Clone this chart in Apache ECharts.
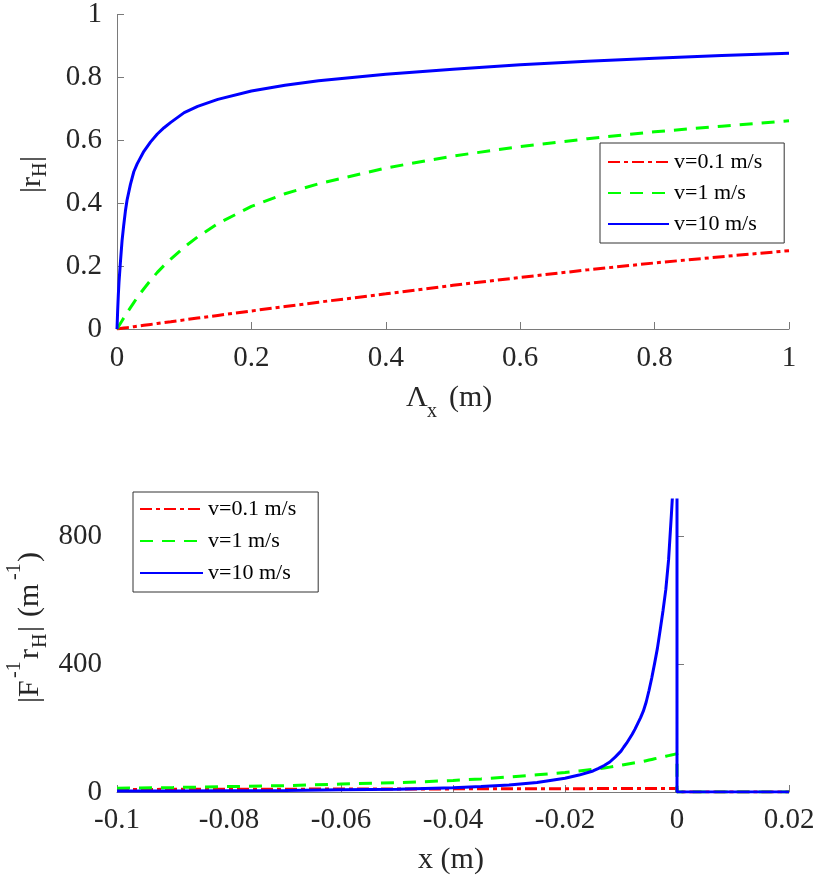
<!DOCTYPE html>
<html>
<head>
<meta charset="utf-8">
<title>r_H</title>
<script src="https://cdn.jsdelivr.net/npm/echarts@6/dist/echarts.min.js"></script>
<style>
  html, body { margin: 0; padding: 0; background: #fff; }
  #chart { width: 828px; height: 875px; }
</style>
</head>
<body>
<div id="chart"></div>
<script>
// top panel: |r_H| vs Lambda_x
const lamX  = [0, 0.001, 0.002, 0.003, 0.005, 0.0075, 0.01, 0.0125, 0.015, 0.02, 0.025, 0.03, 0.04, 0.05, 0.06, 0.07, 0.08, 0.1, 0.12, 0.15, 0.2, 0.25, 0.3, 0.4, 0.5, 0.6, 0.7, 0.8, 0.9, 1.0];
const rSlow = [0, 0.0003, 0.0006, 0.0009, 0.0015, 0.0022, 0.003, 0.0037, 0.0044, 0.0058, 0.0073, 0.0088, 0.0117, 0.0146, 0.0175, 0.0204, 0.0232, 0.029, 0.0347, 0.0432, 0.0574, 0.0714, 0.0852, 0.112, 0.139, 0.164, 0.188, 0.21, 0.23, 0.249];
const rMid  = [0, 0.0035, 0.007, 0.0105, 0.0175, 0.026, 0.035, 0.043, 0.052, 0.068, 0.084, 0.1, 0.128, 0.155, 0.18, 0.202, 0.222, 0.26, 0.293, 0.335, 0.39, 0.43, 0.462, 0.512, 0.55, 0.58, 0.605, 0.627, 0.645, 0.662];
const rFast = [0, 0.06, 0.11, 0.15, 0.21, 0.28, 0.33, 0.375, 0.41, 0.46, 0.5, 0.525, 0.565, 0.595, 0.62, 0.64, 0.657, 0.688, 0.708, 0.73, 0.757, 0.775, 0.789, 0.81, 0.826, 0.84, 0.851, 0.861, 0.87, 0.877];

// bottom panel: |F^-1 r_H| vs x
const xPos  = [-0.1, -0.09, -0.08, -0.07, -0.06, -0.05, -0.04, -0.035, -0.03, -0.025,
               -0.02, -0.0175, -0.015, -0.014, -0.013, -0.012, -0.011, -0.01, -0.0095, -0.009,
               -0.0085, -0.008, -0.0075, -0.007, -0.0065, -0.006, -0.0055, -0.005, -0.0045, -0.004,
               -0.0035, -0.003, -0.0025, -0.002, -0.0015, -0.001, -0.0005, 0, 0, 0.02];
const fSlow = [8, 8.3, 8.6, 8.9, 9.2, 9.5, 9.8, 10, 10.1, 10.3,
               10.4, 10.5, 10.6, 10.6, 10.6, 10.6, 10.7, 10.7, 10.7, 10.7,
               10.8, 10.8, 10.8, 10.8, 10.8, 10.8, 10.9, 10.9, 10.9, 10.9,
               10.9, 10.9, 11, 11, 11, 11, 11, 11, 0, 0];
const fMid  = [12, 14, 17, 20, 25, 29, 36, 41, 47, 54,
               61, 66, 71, 73, 75, 78, 81, 84, 85.5, 87,
               88.5, 90, 91.5, 93, 94.5, 96, 98, 100, 102, 104,
               106, 108, 110, 112, 114, 116, 118, 120, 0, 0];
const fFast = [3, 3, 4, 5, 7, 9, 13, 17, 22, 30,
               43, 53, 66, 74, 83, 94, 110, 128, 141, 153,
               167, 181, 197, 215, 233, 254, 282, 318, 358, 403,
               450, 508, 568, 634, 728, 870, 1020, 1200, 0, 0];

const names  = ['v=0.1 m/s', 'v=1 m/s', 'v=10 m/s'];
const colors = ['#ff0000', '#00ff00', '#0000ff'];
const dashes = [[12, 4, 4, 4], [13, 9], 'solid'];

const FONT = '"Liberation Serif", "Times New Roman", serif';
const TXT = '#262626';

function zip(xs, ys) {
    return xs.map((x, i) => [x, ys[i]]);
}

function mkSeries(idx, xs, ys, k) {
    return {
        name: names[k],
        type: 'line',
        xAxisIndex: idx,
        yAxisIndex: idx,
        data: zip(xs, ys),
        symbol: 'none',
        smooth: false,
        lineStyle: { color: colors[k], width: 3, type: dashes[k] },
        itemStyle: { color: colors[k] },
        z: 2 + k
    };
}

function axisBase() {
    return {
        type: 'value',
        axisLine: { show: true, lineStyle: { color: '#7a7a7a', width: 1 } },
        axisTick: { show: true, inside: true, length: 7, lineStyle: { color: '#7a7a7a' } },
        splitLine: { show: false },
        axisLabel: { fontFamily: FONT, fontSize: 29, color: TXT, margin: 15 }
    };
}

function txt(x, y, s, size, align) {
    return {
        type: 'text', x: x, y: y,
        style: {
            text: s, font: size + 'px ' + FONT, fill: TXT,
            align: align || 'left', verticalAlign: 'middle',
            textAlign: align || 'left', textVerticalAlign: 'middle'
        }
    };
}

function mkLegend(left, top, w, gap, pad) {
    return {
        left: left, top: top, orient: 'vertical', data: names, selectedMode: false,
        itemWidth: w, itemHeight: 14, itemGap: gap,
        padding: pad,
        borderColor: '#333', borderWidth: 1, backgroundColor: '#fff',
        itemStyle: { opacity: 0, borderWidth: 0 },
        textStyle: { fontFamily: FONT, fontSize: 22, color: '#000' }
    };
}

const chart = echarts.init(document.getElementById('chart'));

const option = {
    animation: false,
    backgroundColor: '#fff',
    grid: [
        { left: 117, top: 12, width: 672, height: 317 },
        { left: 117, top: 500, width: 672, height: 292 }
    ],
    xAxis: [
        Object.assign(axisBase(), {
            gridIndex: 0, min: 0, max: 1, interval: 0.2,
            axisLabel: Object.assign(axisBase().axisLabel, { formatter: v => String(+v.toFixed(1)) })
        }),
        Object.assign(axisBase(), {
            gridIndex: 1, min: -0.1, max: 0.02, interval: 0.02,
            axisLabel: Object.assign(axisBase().axisLabel, { margin: 14, formatter: v => String(+v.toFixed(2)) })
        })
    ],
    yAxis: [
        Object.assign(axisBase(), {
            gridIndex: 0, min: 0, max: 1, interval: 0.2,
            axisLabel: Object.assign(axisBase().axisLabel, { formatter: v => String(+v.toFixed(1)) })
        }),
        Object.assign(axisBase(), {
            gridIndex: 1, min: 0, max: 915, interval: 400,
            axisLabel: Object.assign(axisBase().axisLabel, { showMaxLabel: false })
        })
    ],
    legend: [
        mkLegend(600, 143, 61, 9, [8, 22, 8, 7]),
        mkLegend(133, 492, 63, 10, [6, 22, 8, 6])
    ],
    series: [
        mkSeries(0, lamX, rSlow, 0),
        mkSeries(0, lamX, rMid, 1),
        mkSeries(0, lamX, rFast, 2),
        mkSeries(1, xPos, fSlow, 0),
        mkSeries(1, xPos, fMid, 1),
        mkSeries(1, xPos, fFast, 2)
    ],
    graphic: [
        // x label, top panel
        txt(406, 398, 'Λ', 30),
        txt(427, 412, 'x', 20),
        txt(449, 398, '(m)', 30),
        // x label, bottom panel
        txt(451, 860, 'x (m)', 30, 'center'),
        // y label, top panel (rotated)
        {
            type: 'group', x: 42, y: 193, rotation: Math.PI / 2,
            children: [
                txt(0, -10, '|r', 30),
                txt(16, -1, 'H', 20),
                txt(31, -10, '|', 30)
            ]
        },
        // y label, bottom panel (rotated)
        {
            type: 'group', x: 40, y: 703, rotation: Math.PI / 2,
            children: [
                txt(0, -10, '|F', 30),
                txt(25, -25, '-1', 20),
                txt(44, -10, 'r', 30),
                txt(55, 1, 'H', 20),
                txt(71, -10, '|', 30),
                txt(86, -10, '(m', 30),
                txt(123, -25, '-1', 20),
                txt(141, -10, ')', 30)
            ]
        }
    ]
};

chart.setOption(option);
</script>
</body>
</html>
